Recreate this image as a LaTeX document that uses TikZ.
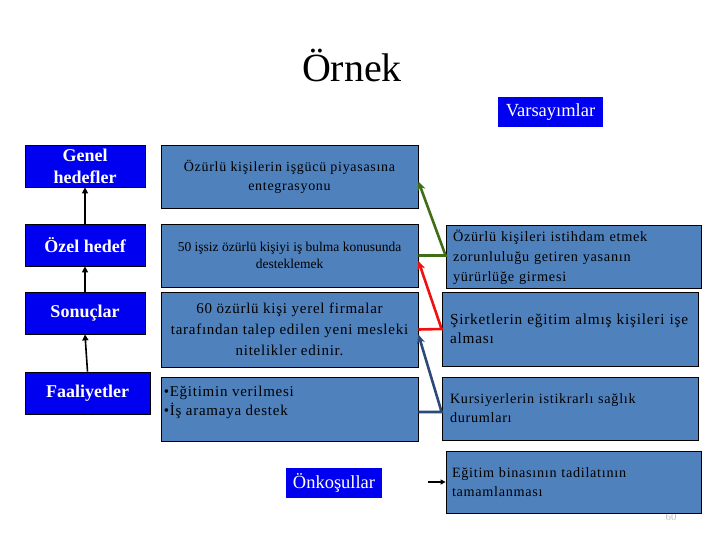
\documentclass[tikz,border=0pt]{standalone}
\usepackage{fontspec}
\setmainfont{Liberation Serif}[BoldFont={Liberation Serif Bold}]
\newfontfamily\spc{Liberation Serif}[LetterSpace=5]
\usetikzlibrary{arrows.meta,calc}
\definecolor{pblue}{HTML}{0000F0}
\definecolor{sblue}{HTML}{4F81BD}
\definecolor{cgreen}{HTML}{3F6E16}
\definecolor{cred}{HTML}{F01010}
\definecolor{cnavy}{HTML}{2C4A78}
\tikzset{
  lbox/.style={draw=black,line width=0.8pt,fill=pblue,text=white,font=\bfseries\fontsize{18}{22}\selectfont,align=center,inner sep=0pt},
  mbox/.style={draw=black,line width=0.8pt,fill=sblue,text=black,align=center,inner sep=0pt},
  rbox/.style={draw=black,line width=0.8pt,fill=sblue,text=black,align=left,inner sep=0pt},
  tagbox/.style={fill=pblue,text=white,font=\fontsize{18.5}{20}\selectfont,inner sep=0pt},
  uparrow/.style={line width=1.6pt,-{Triangle[length=6pt,width=6pt]}},
  conn/.style={line width=2.6pt,-{Stealth[length=9pt,width=8pt]}}
}
\begin{document}
\begin{tikzpicture}[x=1pt,y=-1pt]
\useasboundingbox (0,0) rectangle (720,540);
\node[font=\fontsize{40}{42}\selectfont] (title) at (352,65) {Örnek};
\node[tagbox,minimum width=105pt,minimum height=30pt] (var) at (550.5,112) {Varsayımlar};
% left column
\node[lbox,minimum width=120pt,minimum height=42pt] (gh) at (85,166) {Genel\\hedefler};
\node[lbox,minimum width=120pt,minimum height=42pt] (ozh) at (85,245) {Özel hedef};
\node[lbox,minimum width=120pt,minimum height=42pt] (son) at (85,313) {Sonuçlar};
\node[lbox,minimum width=125pt,minimum height=42pt] (faa) at (87.5,393) {Faaliyetler};
\draw[uparrow] (ozh.north) -- (gh.south);
\draw[uparrow] (son.north) -- (ozh.south);
\draw[uparrow] (faa.north) -- (son.south);
% middle column
\node[mbox,minimum width=257pt,minimum height=63pt,font=\spc\fontsize{14}{19}\selectfont] (m1) at (289.5,176.5) {Özürlü kişilerin işgücü piyasasına\\entegrasyonu};
\node[mbox,minimum width=257pt,minimum height=63pt,font=\fontsize{13.5}{17}\selectfont] (m2) at (289.5,255.5) {50 işsiz özürlü kişiyi iş bulma konusunda\\desteklemek};
\node[mbox,minimum width=257pt,minimum height=75pt,font=\spc\fontsize{15}{21}\selectfont] (m3) at (289.5,329.5) {60 özürlü kişi yerel firmalar\\tarafından talep edilen yeni mesleki\\nitelikler edinir.};
\node[mbox,minimum width=257pt,minimum height=64pt,
  label={[anchor=north west,align=left,inner sep=0pt,font=\spc\fontsize{15}{19}\selectfont,xshift=3pt,yshift=-9pt]north west:{\textbullet Eğitimin verilmesi\\\textbullet İş aramaya destek}}] (m4) at (289.5,409) {};
% page number (partly hidden)
\node[text=black!25,font=\fontsize{11}{12}\selectfont] (pg) at (671,517) {60};
% right column
\node[rbox,minimum width=255pt,minimum height=63pt,font=\spc\fontsize{14.3}{20}\selectfont,text width=241pt] (r1) at (573.5,257) {Özürlü kişileri istihdam etmek\\zorunluluğu getiren yasanın\\yürürlüğe girmesi};
\node[rbox,minimum width=256pt,minimum height=74pt,font=\spc\fontsize{15.3}{19}\selectfont,text width=240pt] (r2) at (570,329) {\mbox{Şirketlerin eğitim almış kişileri işe}\\alması};
\node[rbox,minimum width=256pt,minimum height=63pt,font=\spc\fontsize{14.2}{19}\selectfont,text width=240pt] (r3) at (570,408.5) {Kursiyerlerin istikrarlı sağlık\\durumları};
\node[rbox,minimum width=255pt,minimum height=62pt,font=\spc\fontsize{14.2}{19}\selectfont,text width=243pt] (r4) at (573.5,482) {Eğitim binasının tadilatının\\tamamlanması};
\node[tagbox,minimum width=96pt,minimum height=30pt] (onk) at (334,483) {Önkoşullar};
% connectors
\draw[conn,cgreen] (m2.east) -- (r1.west |- m2.east) -- ($(m1.east)+(0,5)$);
\draw[conn,cred] (m3.east) -- (r2.west) -- ($(m2.east)+(0,5.5)$);
\draw[conn,cnavy] (m4.east |- 0,412) -- (r3.west |- 0,412) -- ($(m3.east)+(0,5)$);
\coordinate (oa) at (428,482);
\draw[line width=1.5pt,-{Triangle[length=5pt,width=5pt]}] (oa) -- (r4.west);
\end{tikzpicture}
\end{document}
